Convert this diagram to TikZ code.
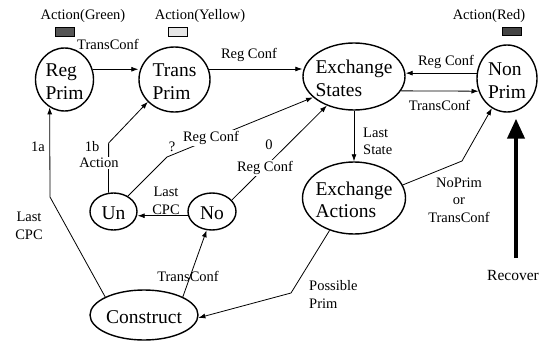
\documentclass[tikz,border=0pt]{standalone}
\usepackage{fontspec}
\setmainfont{Liberation Serif}
\usetikzlibrary{arrows.meta,shapes.geometric}
\definecolor{lampdark}{HTML}{555555}
\definecolor{lamplight}{HTML}{E6E6E6}
\definecolor{lampred}{HTML}{444444}
\begin{document}
\begin{tikzpicture}[x=1pt,y=-1pt,
  state/.style={draw,line width=1.4pt,ellipse,inner sep=0pt},
  statetext/.style={align=left,inner sep=0pt,yshift=-2pt,font=\fontsize{19.5}{22.5}\selectfont},
  lbl/.style={font=\fontsize{14.5}{17.5}\selectfont,inner sep=1pt},
  cut/.style={lbl,fill=white},
  edge/.style={line width=0.8pt,-{Latex[length=7pt,width=5pt]}},
  lamp/.style={draw,line width=0.6pt,minimum width=19pt,minimum height=8.5pt,inner sep=0pt},
]
\useasboundingbox (0,0) rectangle (545,342);

% states
\node[state,minimum width=58pt,minimum height=63pt,label={[statetext]center:Reg\\Prim}] (RegPrim) at (64.5,79.5) {};
\node[state,minimum width=71pt,minimum height=65pt,label={[statetext]center:Trans\\Prim}] (TransPrim) at (174.5,79.5) {};
\node[state,minimum width=102pt,minimum height=67pt,label={[statetext]center:Exchange\\States}] (ES) at (354,76.5) {};
\node[state,minimum width=60pt,minimum height=67pt,label={[statetext]center:Non\\Prim}] (NonPrim) at (507,78.5) {};
\node[state,minimum width=103pt,minimum height=72pt,label={[statetext]center:Exchange\\Actions}] (EA) at (354,198) {};
\node[state,minimum width=47pt,minimum height=37pt,label={[statetext]center:Un}] (Un) at (113.5,211.5) {};
\node[state,minimum width=48pt,minimum height=37pt,label={[statetext]center:No}] (No) at (212,211.5) {};
\node[state,minimum width=108pt,minimum height=50pt,label={[statetext]center:Construct}] (Construct) at (144,315) {};

% status lamps
\node[lamp,fill=lampdark] (gLamp) at (64.5,32) {};
\node[lbl] (gTxt) at (83,16) {Action(Green)};
\node[lamp,fill=lamplight] (yLamp) at (177.5,32) {};
\node[lbl] (yTxt) at (200,16) {Action(Yellow)};
\node[lamp,fill=lampred] (rLamp) at (511.5,31.5) {};
\node[lbl] (rTxt) at (489,16) {Action(Red)};

% bend points
\coordinate (b1a) at (50,197);
\coordinate (b1b) at (108.65,143);
\coordinate (bQ) at (167,157);
\coordinate (bNP) at (462,161);
\coordinate (bPP) at (291,293);
\coordinate (rec) at (516,258);

% transitions
\draw[edge] (RegPrim.20) -- (RegPrim.20 -| TransPrim.west);
\draw[edge] (TransPrim.17) -- (TransPrim.17 -| ES.west);
\draw[edge] (NonPrim.170) -- (NonPrim.170 -| ES.east);
\draw[edge] (ES.-17) -- (NonPrim.204);
\draw[edge] (ES.south) -- (EA.north);
\draw[edge] (EA.15) -- (bNP) -- (NonPrim.243);
\draw[edge] (EA.233) -- (bPP) -- (Construct.-3);
\draw[edge] (Construct.25) -- (No.254);
\draw[edge] (No.190) -- (No.190 -| Un.east);
\draw[edge] (Construct.155) -- (b1a) -- (RegPrim.242);
\draw[edge] (Un.105) -- (b1b) -- (TransPrim.220);
\draw[edge] (Un.47) -- (bQ) -- (ES.207);
\draw[edge] (No.30) -- (ES.227);
\draw[line width=4pt,-{Triangle[length=20pt,width=17pt]},shorten >=6pt] (rec) -- (rec |- NonPrim.south);

% transition labels
\node[lbl] (lTC1) at (108,44) {TransConf};
\node[lbl] (lRC1) at (249,55) {Reg Conf};
\node[lbl] (lRC2) at (446,62) {Reg Conf};
\node[lbl] (lTC2) at (439.5,105) {TransConf};
\node[lbl,align=left,anchor=west] (lLS) at (362,141.5) {Last\\State};
\node[lbl,align=center] (lNP) at (459,200) {NoPrim\\or\\TransConf};
\node[lbl,align=left,anchor=west] (lPP) at (308,294.5) {Possible\\Prim};
\node[lbl] (lTC3) at (188,276) {TransConf};
\node[lbl,align=center] (lLC1) at (166,201) {Last\\CPC};
\node[lbl,align=center] (lLC2) at (29,226) {Last\\CPC};
\node[lbl] (l1a) at (38,147) {1a};
\node[lbl] (l1b) at (92,147) {1b};
\node[cut] (lAct) at (99,163) {Action};
\node[lbl] (lQ) at (172,147) {?};
\node[cut] (lRC3) at (211,138) {Reg Conf};
\node[lbl] (l0) at (269,145) {0};
\node[cut] (lRC4) at (265,168) {Reg Conf};
\node[lbl,font=\fontsize{15.5}{18}\selectfont] (lRec) at (513,275) {Recover};
\end{tikzpicture}
\end{document}
